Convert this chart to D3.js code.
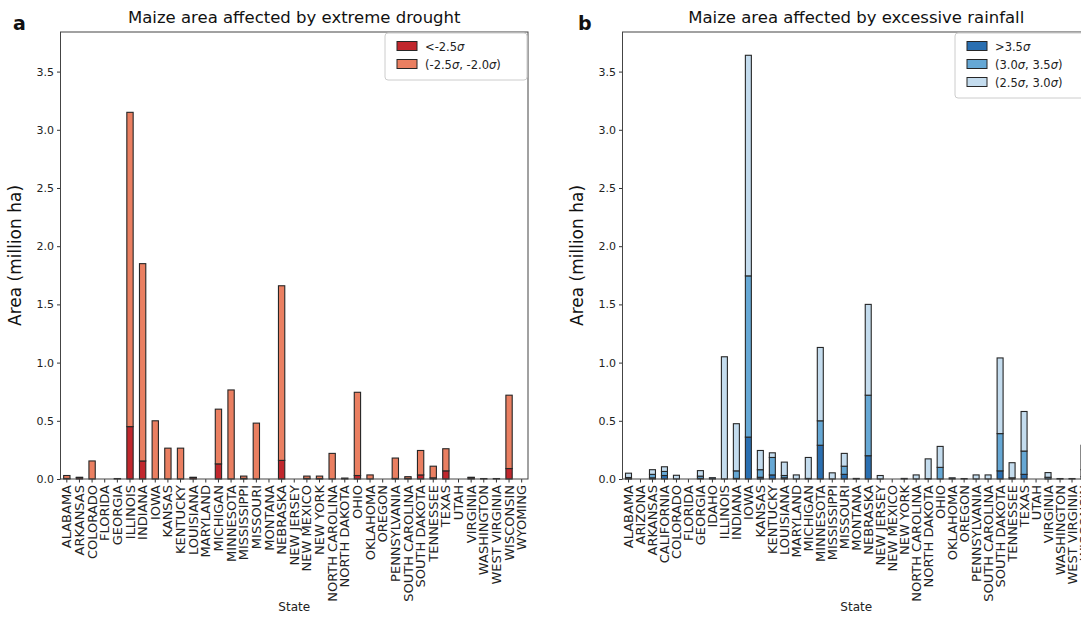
<!DOCTYPE html>
<html>
<head>
<meta charset="utf-8">
<script src="https://cdn.jsdelivr.net/npm/d3@7"></script>
<style>
  body { margin: 0; background: #fff; overflow: hidden; }
  svg { font-family: "DejaVu Sans", sans-serif; display: block; }
</style>
</head>
<body>
<div id="chart"></div>
<script>
// PANEL A DATA (extreme drought)
const statesA = ["ALABAMA", "ARKANSAS", "COLORADO", "FLORIDA", "GEORGIA", "ILLINOIS", "INDIANA", "IOWA",
  "KANSAS", "KENTUCKY", "LOUISIANA", "MARYLAND", "MICHIGAN", "MINNESOTA", "MISSISSIPPI", "MISSOURI",
  "MONTANA", "NEBRASKA", "NEW JERSEY", "NEW MEXICO", "NEW YORK", "NORTH CAROLINA", "NORTH DAKOTA",
  "OHIO", "OKLAHOMA", "OREGON", "PENNSYLVANIA", "SOUTH CAROLINA", "SOUTH DAKOTA", "TENNESSEE", "TEXAS",
  "UTAH", "VIRGINIA", "WASHINGTON", "WEST VIRGINIA", "WISCONSIN", "WYOMING"];
const droughtBelow25 = [0.005, 0.012, 0, 0, 0.004, 0.45, 0.155, 0, 0, 0, 0.012, 0, 0.13, 0, 0.005, 0,
  0, 0.16, 0, 0.005, 0.003, 0, 0.008, 0.03, 0, 0, 0.005, 0.005, 0.035, 0.01, 0.07,
  0, 0.01, 0.004, 0.004, 0.09, 0];
const drought25to20 = [0.025, 0.003, 0.155, 0, 0, 2.70, 1.695, 0.50, 0.265, 0.265, 0.003, 0, 0.47, 0.765, 0.02, 0.48,
  0, 1.50, 0, 0.02, 0.022, 0.22, 0, 0.715, 0.035, 0, 0.175, 0.015, 0.21, 0.10, 0.19,
  0, 0.005, 0, 0, 0.63, 0];

// PANEL B DATA (excessive rainfall)
const statesB = ["ALABAMA", "ARIZONA", "ARKANSAS", "CALIFORNIA", "COLORADO", "FLORIDA", "GEORGIA", "IDAHO",
  "ILLINOIS", "INDIANA", "IOWA", "KANSAS", "KENTUCKY", "LOUISIANA", "MARYLAND", "MICHIGAN", "MINNESOTA",
  "MISSISSIPPI", "MISSOURI", "MONTANA", "NEBRASKA", "NEW JERSEY", "NEW MEXICO", "NEW YORK",
  "NORTH CAROLINA", "NORTH DAKOTA", "OHIO", "OKLAHOMA", "OREGON", "PENNSYLVANIA", "SOUTH CAROLINA",
  "SOUTH DAKOTA", "TENNESSEE", "TEXAS", "UTAH", "VIRGINIA", "WASHINGTON", "WEST VIRGINIA", "WISCONSIN"];
const rainAbove35 = [0.003, 0, 0.01, 0.03, 0, 0, 0.005, 0.011, 0, 0.005, 0.36, 0.015, 0.035, 0.01, 0, 0.005, 0.29,
  0, 0.04, 0.005, 0.2, 0, 0, 0.005, 0, 0.003, 0, 0.01, 0.004, 0, 0, 0.07, 0.01, 0.04, 0, 0, 0.004, 0.004, 0.02];
const rain30to35 = [0.01, 0, 0.03, 0.035, 0, 0, 0.02, 0, 0, 0.065, 1.385, 0.065, 0.15, 0.02, 0, 0, 0.21,
  0, 0.07, 0, 0.52, 0, 0, 0, 0, 0, 0.1, 0, 0, 0, 0, 0.32, 0, 0.2, 0, 0.015, 0, 0, 0.06];
const rain25to30 = [0.037, 0, 0.04, 0.04, 0.032, 0, 0.047, 0, 1.05, 0.405, 1.895, 0.165, 0.04, 0.115, 0.035, 0.18, 0.63,
  0.053, 0.11, 0, 0.78, 0.03, 0, 0, 0.035, 0.17, 0.18, 0, 0, 0.035, 0.035, 0.65, 0.13, 0.34, 0, 0.04, 0, 0, 0.21];

const yTicks = [0.0, 0.5, 1.0, 1.5, 2.0, 2.5, 3.0, 3.5];

const W = 1081, H = 618;
const plotTop = 32, plotBottom = 479;

const svg = d3.select("#chart").append("svg")
  .attr("width", W)
  .attr("height", H);

const y = d3.scaleLinear().domain([0, 3.84]).range([plotBottom, plotTop]);

function panel(opts) {
  const g = svg.append("g");
  const x = d3.scaleBand()
    .domain(opts.states)
    .range([opts.left, opts.right])
    .paddingInner(0.5)
    .paddingOuter(0.25);

  // stacked series
  const rows = opts.states.map((s, i) => {
    const o = { state: s };
    opts.keys.forEach((k, j) => { o[k] = opts.values[j][i]; });
    return o;
  });
  const series = d3.stack().keys(opts.keys)(rows);

  // y ticks
  const yAxis = g.append("g")
    .attr("transform", `translate(${opts.left},0)`)
    .call(d3.axisLeft(y).tickValues(yTicks).tickFormat(d3.format(".1f")).tickSize(3.5).tickPadding(3));
  yAxis.select(".domain").remove();
  yAxis.selectAll("line").attr("stroke", "#333");
  yAxis.selectAll("text").attr("font-size", 11).attr("fill", "#222").attr("font-family", "DejaVu Sans");

  // x ticks
  const xAxis = g.append("g")
    .attr("transform", `translate(0,${plotBottom})`)
    .call(d3.axisBottom(x).tickSize(3.5).tickPadding(3));
  xAxis.select(".domain").remove();
  xAxis.selectAll("line").attr("stroke", "#333");
  xAxis.selectAll("text")
    .attr("font-size", 13)
    .attr("fill", "#222")
    .attr("font-family", "DejaVu Sans")
    .attr("transform", "rotate(-90)")
    .attr("text-anchor", "end")
    .attr("x", -6)
    .attr("y", 0)
    .attr("dy", "0.35em");

  // bars
  g.selectAll("g.layer")
    .data(series)
    .enter()
    .append("g")
    .attr("fill", (d, i) => opts.colors[i])
    .selectAll("rect")
    .data(d => d.filter(v => v[1] - v[0] > 0))
    .enter()
    .append("rect")
    .attr("x", d => x(d.data.state))
    .attr("y", d => y(d[1]))
    .attr("width", x.bandwidth())
    .attr("height", d => y(d[0]) - y(d[1]))
    .attr("stroke", "#262626")
    .attr("stroke-width", 1.1);

  // frame
  g.append("rect")
    .attr("x", opts.left)
    .attr("y", plotTop)
    .attr("width", opts.right - opts.left)
    .attr("height", plotBottom - plotTop)
    .attr("fill", "none")
    .attr("stroke", "#444")
    .attr("stroke-width", 1);

  // title
  g.append("text")
    .attr("x", (opts.left + opts.right) / 2)
    .attr("y", 23)
    .attr("text-anchor", "middle")
    .attr("font-size", 16.5)
    .attr("fill", "#111")
    .text(opts.title);

  // panel letter
  g.append("text")
    .attr("x", opts.letterX)
    .attr("y", 30)
    .attr("font-size", 19)
    .attr("font-weight", "bold")
    .attr("fill", "#111")
    .text(opts.letter);

  // y label
  g.append("text")
    .attr("transform", `translate(${opts.left - 40},${(plotTop + plotBottom) / 2}) rotate(-90)`)
    .attr("text-anchor", "middle")
    .attr("font-size", 17)
    .attr("fill", "#111")
    .text("Area (million ha)");

  // x label
  g.append("text")
    .attr("x", (opts.left + opts.right) / 2)
    .attr("y", 611)
    .attr("text-anchor", "middle")
    .attr("font-size", 12)
    .attr("fill", "#222")
    .text("State");

  // legend
  const lg = g.append("g").attr("transform", `translate(${opts.legendX},${plotTop + 1})`);
  lg.append("rect")
    .attr("width", opts.legendW)
    .attr("height", opts.labels.length * 18 + 11)
    .attr("rx", 3)
    .attr("fill", "#fff")
    .attr("fill-opacity", 0.8)
    .attr("stroke", "#ccc");
  const item = lg.selectAll("g.item")
    .data(opts.labels)
    .enter()
    .append("g")
    .attr("transform", (d, i) => `translate(12,${8 + i * 18})`);
  item.append("rect")
    .attr("width", 20)
    .attr("height", 9)
    .attr("y", 0.5)
    .attr("fill", (d, i) => opts.colors[i])
    .attr("stroke", "#262626");
  const t = item.append("text")
    .attr("x", 28)
    .attr("y", 9.5)
    .attr("font-size", 11.5)
    .attr("fill", "#222");
  t.each(function(d) {
    const el = d3.select(this);
    d.split("σ").forEach((part, i, arr) => {
      el.append("tspan").text(part);
      if (i < arr.length - 1) el.append("tspan").attr("font-style", "italic").text("σ");
    });
  });
}

panel({
  states: statesA,
  keys: ["below25", "between"],
  values: [droughtBelow25, drought25to20],
  colors: ["#c1272d", "#ea7f61"],
  labels: ["<-2.5σ", "(-2.5σ, -2.0σ)"],
  left: 60.5, right: 528,
  title: "Maize area affected by extreme drought",
  letter: "a", letterX: 13,
  legendX: 385, legendW: 142
});

panel({
  states: statesB,
  keys: ["above35", "mid", "low"],
  values: [rainAbove35, rain30to35, rain25to30],
  colors: ["#2a6fb1", "#66a8d5", "#c4dcee"],
  labels: [">3.5σ", "(3.0σ, 3.5σ)", "(2.5σ, 3.0σ)"],
  left: 622.5, right: 1090,
  title: "Maize area affected by excessive rainfall",
  letter: "b", letterX: 578,
  legendX: 955, legendW: 132
});
</script>
</body>
</html>
